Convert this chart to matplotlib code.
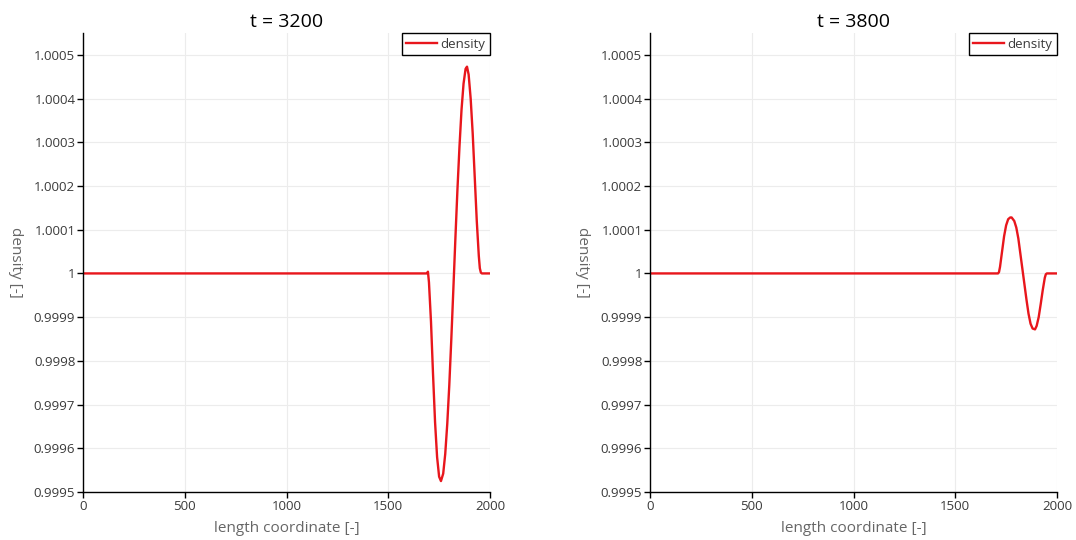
import matplotlib
matplotlib.use("Agg")
import matplotlib.pyplot as plt

# t = 3200 : deviation from 1 in units of 1e-6
x_3200 = [0, 1600, 1690, 1695, 1700, 1710, 1720, 1730, 1740, 1750, 1759, 1770, 1780, 1790,
          1800, 1810, 1820, 1830, 1840, 1850, 1860, 1870, 1880, 1887, 1895, 1905, 1915,
          1925, 1935, 1945, 1950, 1955, 1960, 2000]
d_3200 = [0, 0, 0, 4, -20, -110, -230, -340, -420, -465, -475, -458, -413, -344,
          -255, -149, -35, 81, 192, 290, 374, 434, 468, 473, 455, 400, 320,
          220, 120, 40, 12, 2, 0, 0]

# t = 3800
x_3800 = [0, 1600, 1710, 1715, 1720, 1730, 1740, 1750, 1760, 1770, 1777, 1790, 1800, 1810,
          1820, 1830, 1840, 1850, 1860, 1870, 1880, 1892, 1900, 1910, 1920, 1930, 1940,
          1945, 1950, 2000]
d_3800 = [0, 0, 0, 3, 15, 50, 85, 110, 124, 128, 128, 120, 105, 80,
          45, 10, -25, -60, -92, -115, -126, -128, -120, -100, -70, -38, -10,
          -2, 0, 0]

titles = ["t = 3200", "t = 3800"]
yticks = [0.9995, 0.9996, 0.9997, 0.9998, 0.9999, 1.0, 1.0001, 1.0002, 1.0003, 1.0004, 1.0005]
ytick_labels = ["0.9995", "0.9996", "0.9997", "0.9998", "0.9999", "1",
                "1.0001", "1.0002", "1.0003", "1.0004", "1.0005"]
xticks = [0, 500, 1000, 1500, 2000]

plt.rcParams['font.family'] = ['Open Sans', 'DejaVu Sans']

fig = plt.figure(figsize=(10.76, 5.40), dpi=100)
w = 407 / 1076
b = 1 - 492 / 540
h = (492 - 33) / 540
lefts = [83 / 1076, 650 / 1076]
series = [(x_3200, d_3200), (x_3800, d_3800)]

for left, title, (xs, ds) in zip(lefts, titles, series):
    ax = fig.add_axes([left, b, w, h])
    ys = [1 + d * 1e-6 for d in ds]
    ax.plot(xs, ys, color="#e8161c", lw=1.7, label="density")
    ax.set_xlim(0, 2000)
    ax.set_ylim(0.9995, 1.00055)
    ax.set_xticks(xticks)
    ax.set_xticklabels([str(t) for t in xticks])
    ax.set_yticks(yticks)
    ax.set_yticklabels(ytick_labels)
    ax.grid(True, color="#ececec", lw=0.8)
    ax.set_axisbelow(True)
    for s in ["top", "right"]:
        ax.spines[s].set_visible(False)
    for s in ["left", "bottom"]:
        ax.spines[s].set_color("black")
        ax.spines[s].set_linewidth(1.0)
    ax.tick_params(direction="out", length=4, width=1, colors="black",
                   labelsize=9.5, labelcolor="#3a3a3a", pad=1.5)
    ax.set_title(title, fontsize=14, color="black", pad=4)
    ax.set_xlabel("length coordinate [-]", fontsize=11, color="#666666", labelpad=6)
    ax.set_ylabel("density [-]", fontsize=11, color="#666666", labelpad=13,
                  rotation=-90, va="center")
    leg = ax.legend(loc="upper right", borderaxespad=0, fancybox=False,
                    edgecolor="black", fontsize=9.5, handlelength=2.3,
                    handletextpad=0.3, borderpad=0.35, framealpha=1)
    leg.get_frame().set_linewidth(1.0)
    for t in leg.get_texts():
        t.set_color("#3a3a3a")

fig.savefig("out.png", dpi=100)
